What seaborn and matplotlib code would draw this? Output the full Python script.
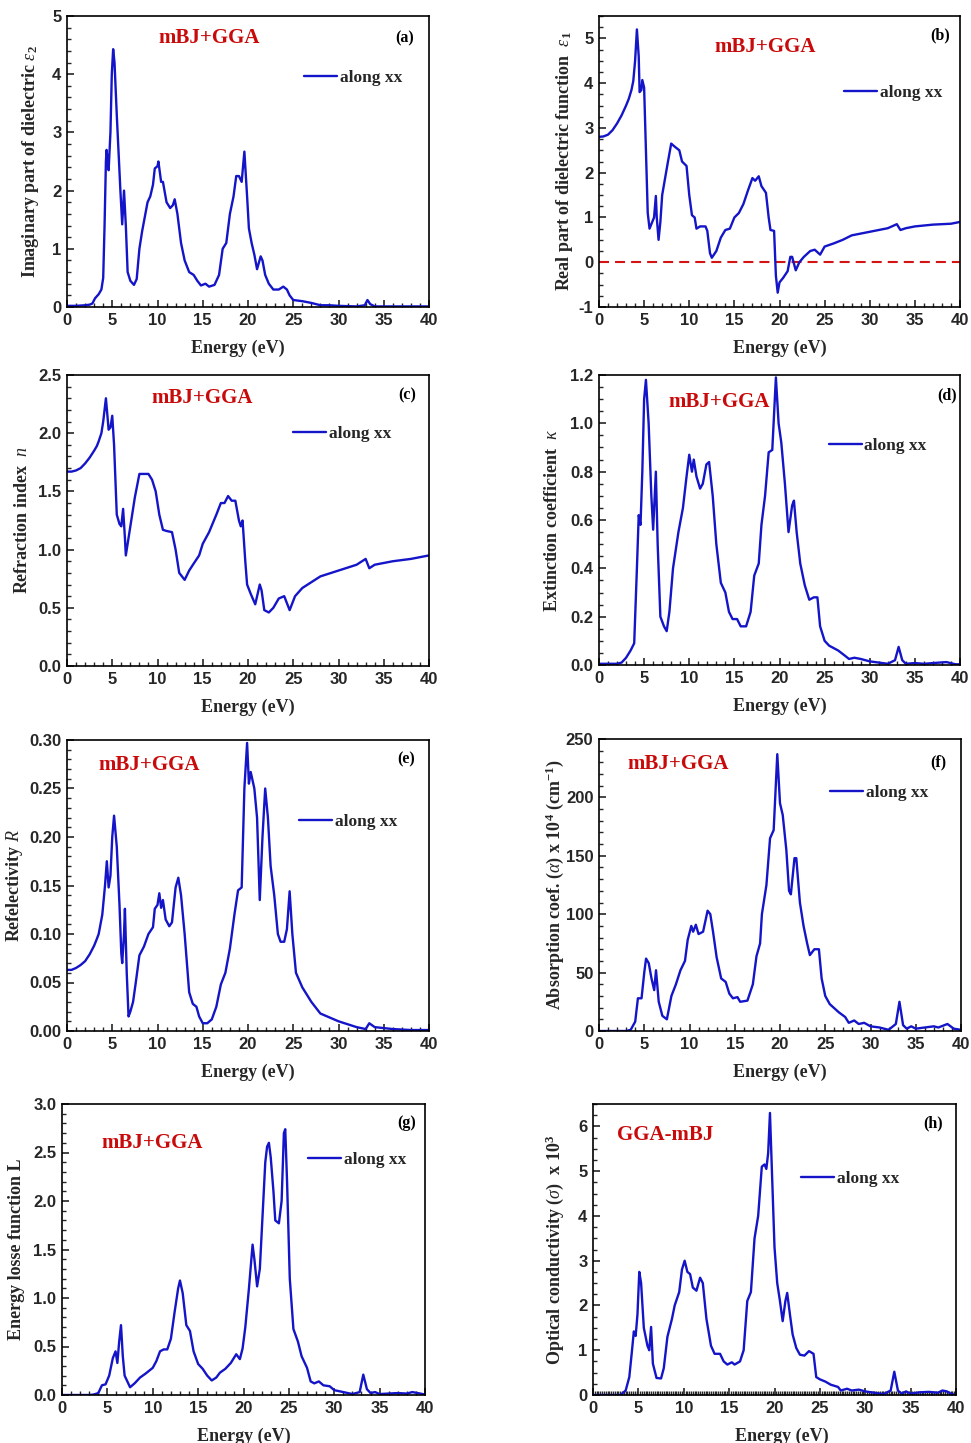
import numpy as np
import pandas as pd
import matplotlib
matplotlib.use("Agg")
import matplotlib.pyplot as plt
from matplotlib.font_manager import FontProperties
from matplotlib.ticker import MultipleLocator, AutoMinorLocator, FormatStrFormatter
import seaborn as sns

# ---------------------------------------------------------------- data
# (a) imaginary part of the dielectric function
energy_eps2 = [0, 1, 2, 2.5, 2.8, 3.1, 3.5, 3.8, 4.0, 4.15, 4.3, 4.37, 4.5, 4.6, 4.8, 4.95, 5.1, 5.25,
               5.5, 5.9, 6.1, 6.3, 6.5, 6.7, 7.0, 7.4, 7.7, 8.0, 8.3, 8.9, 9.2, 9.5, 9.7, 10.0, 10.1,
               10.4, 10.6, 11.0, 11.4, 11.7, 11.9, 12.2, 12.6, 13.0, 13.5, 14.0, 14.4, 14.8, 15.3,
               15.7, 16.3, 16.8, 17.2, 17.6, 18.0, 18.4, 18.7, 19.0, 19.3, 19.6, 19.9, 20.1, 20.4,
               20.7, 21.0, 21.4, 21.6, 21.9, 22.3, 22.8, 23.4, 23.9, 24.3, 24.6, 25.0, 26.0, 27.0,
               28.0, 29.0, 30.0, 32.0, 32.9, 33.2, 33.5, 34.0, 36.0, 38.0, 40.0]
eps2 = [0.02, 0.02, 0.03, 0.04, 0.06, 0.15, 0.22, 0.3, 0.5, 1.4, 2.5, 2.7, 2.5, 2.35, 3.0, 4.0, 4.43, 4.2,
        3.3, 2.0, 1.42, 2.0, 1.4, 0.6, 0.45, 0.38, 0.48, 1.0, 1.3, 1.8, 1.9, 2.1, 2.38, 2.42, 2.5,
        2.15, 2.15, 1.8, 1.7, 1.75, 1.85, 1.6, 1.1, 0.8, 0.6, 0.55, 0.45, 0.37, 0.4,
        0.35, 0.38, 0.55, 1.0, 1.1, 1.6, 1.9, 2.25, 2.25, 2.15, 2.67, 1.9, 1.35, 1.1,
        0.9, 0.65, 0.87, 0.8, 0.55, 0.4, 0.3, 0.3, 0.35, 0.3, 0.2, 0.12, 0.1, 0.07,
        0.03, 0.03, 0.02, 0.01, 0.03, 0.12, 0.05, 0.01, 0.01, 0.01, 0.01]

# (b) real part of the dielectric function
energy_eps1 = [0, 0.5, 1, 1.5, 2, 2.5, 3, 3.3, 3.6, 3.8, 4.0, 4.2, 4.4, 4.5, 4.7, 4.8, 5.0, 5.2, 5.4, 5.6,
               5.9, 6.1, 6.3, 6.4, 6.6, 6.8, 7.0, 7.6, 8.0, 8.4, 8.9, 9.2, 9.7, 10.0, 10.3, 10.6, 10.8,
               11.2, 11.8, 12.0, 12.3, 12.5, 13.0, 13.5, 14.0, 14.5, 15.0, 15.5, 16.0, 16.5, 17.0,
               17.3, 17.7, 18.0, 18.5, 18.8, 19.0, 19.4, 19.6, 19.8, 20.0, 20.4, 20.9, 21.2, 21.4,
               21.8, 22.2, 22.7, 23.4, 23.9, 24.5, 25.0, 26.0, 27.0, 28.0, 30.0, 32.0, 33.0, 33.4,
               34.0, 35.0, 37.0, 39.0, 40.0]
eps1 = [2.8, 2.81, 2.85, 2.95, 3.1, 3.28, 3.5, 3.65, 3.85, 4.05, 4.5, 5.2, 4.6, 3.8, 3.85, 4.07, 3.9, 2.5, 1.1, 0.75,
        0.9, 1.0, 1.48, 1.0, 0.5, 0.9, 1.5, 2.2, 2.65, 2.58, 2.5, 2.25, 2.15, 1.5, 1.05, 1.0, 0.75,
        0.8, 0.8, 0.7, 0.2, 0.1, 0.25, 0.55, 0.72, 0.75, 1.0, 1.1, 1.3, 1.6, 1.88,
        1.82, 1.92, 1.7, 1.55, 1.0, 0.72, 0.7, -0.3, -0.68, -0.45, -0.35, -0.2, 0.12, 0.12,
        -0.18, 0.0, 0.12, 0.25, 0.28, 0.17, 0.35, 0.42, 0.5, 0.6, 0.68, 0.76, 0.85, 0.72,
        0.76, 0.8, 0.84, 0.86, 0.9]

# (c) refraction index
energy_n = [0, 0.5, 1, 1.5, 2, 2.5, 3, 3.3, 3.5, 3.8, 4.0, 4.3, 4.6, 4.8, 5.0, 5.2, 5.5, 5.8, 6.0, 6.2,
            6.4, 6.5, 6.8, 7.0, 7.5, 8.0, 8.5, 9.0, 9.4, 9.8, 10.2, 10.6, 11.0, 11.6, 12.0, 12.4,
            13.0, 13.5, 14.0, 14.6, 15.0, 15.7, 16.5, 17.0, 17.4, 17.8, 18.2, 18.6, 19.0, 19.2,
            19.4, 19.7, 19.9, 20.3, 20.8, 21.3, 21.5, 21.8, 22.3, 22.8, 23.4, 24.0, 24.4, 24.6,
            25.2, 26.0, 27.0, 28.0, 30.0, 32.0, 33.0, 33.4, 34.0, 36.0, 38.0, 40.0]
n_index = [1.67, 1.67, 1.68, 1.7, 1.74, 1.79, 1.85, 1.89, 1.93, 2.0, 2.1, 2.3, 2.03, 2.05, 2.15, 1.9, 1.3, 1.22, 1.2, 1.35,
           1.1, 0.95, 1.1, 1.2, 1.45, 1.65, 1.65, 1.65, 1.6, 1.5, 1.3, 1.17, 1.16, 1.15, 1.0, 0.8,
           0.74, 0.82, 0.88, 0.95, 1.05, 1.15, 1.3, 1.4, 1.4, 1.46, 1.42, 1.42, 1.25, 1.2,
           1.25, 0.9, 0.7, 0.62, 0.53, 0.7, 0.65, 0.48, 0.46, 0.5, 0.58, 0.6, 0.52, 0.48,
           0.6, 0.67, 0.72, 0.77, 0.82, 0.87, 0.92, 0.84, 0.87, 0.9, 0.92, 0.95]

# (d) extinction coefficient
energy_k = [0, 2, 2.5, 3.0, 3.5, 3.9, 4.2, 4.4, 4.6, 4.8, 5.0, 5.2, 5.5, 5.8, 6.0, 6.3, 6.5, 6.8, 7.2,
            7.5, 7.8, 8.2, 8.8, 9.3, 9.7, 10.0, 10.3, 10.5, 10.8, 11.2, 11.5, 11.9, 12.2, 12.6,
            13.0, 13.5, 14.0, 14.4, 14.8, 15.3, 15.7, 16.3, 16.8, 17.2, 17.7, 18.0, 18.4, 18.8,
            19.2, 19.6, 19.9, 20.2, 20.6, 21.0, 21.4, 21.6, 21.9, 22.3, 22.8, 23.3, 23.8, 24.2,
            24.5, 25.0, 25.5, 26.5, 27.2, 27.7, 28.3, 29.0, 30.0, 31.0, 32.0, 32.8, 33.2, 33.6,
            34.0, 35.0, 36.0, 37.0, 38.5, 39.5, 40.0]
kappa = [0.005, 0.005, 0.01, 0.03, 0.06, 0.09, 0.4, 0.62, 0.58, 0.8, 1.1, 1.18, 1.0, 0.7, 0.56, 0.8, 0.5, 0.2, 0.16,
         0.14, 0.22, 0.4, 0.55, 0.65, 0.78, 0.87, 0.8, 0.85, 0.78, 0.73, 0.75, 0.83, 0.84, 0.7,
         0.5, 0.34, 0.3, 0.22, 0.19, 0.19, 0.16, 0.16, 0.22, 0.37, 0.42, 0.58, 0.7, 0.88,
         0.89, 1.19, 1.0, 0.92, 0.75, 0.55, 0.66, 0.68, 0.55, 0.42, 0.33, 0.27, 0.28, 0.28,
         0.16, 0.1, 0.08, 0.06, 0.04, 0.025, 0.03, 0.025, 0.015, 0.01, 0.005, 0.02, 0.075, 0.02,
         0.005, 0.008, 0.005, 0.008, 0.012, 0.003, 0.003]

# (e) reflectivity
energy_r = [0, 0.5, 1, 1.5, 2, 2.5, 3, 3.3, 3.5, 3.9, 4.2, 4.4, 4.6, 4.8, 5.0, 5.2, 5.5, 5.8, 6.0, 6.1,
            6.3, 6.4, 6.6, 6.8, 7.0, 7.3, 7.6, 8.0, 8.5, 9.0, 9.5, 9.7, 10.0, 10.2, 10.4, 10.6, 10.9,
            11.3, 11.6, 12.0, 12.3, 12.6, 13.0, 13.5, 13.9, 14.3, 14.6, 15.0, 15.5, 16.0, 16.5,
            17.0, 17.5, 18.0, 18.5, 18.9, 19.3, 19.6, 19.9, 20.1, 20.3, 20.7, 21.0, 21.3, 21.6,
            21.9, 22.2, 22.5, 22.9, 23.3, 23.6, 24.0, 24.3, 24.6, 24.9, 25.3, 26.0, 27.0, 28.0,
            29.0, 30.0, 31.0, 32.0, 33.0, 33.4, 34.0, 35.0, 36.0, 38.0, 40.0]
reflect = [0.063, 0.063, 0.065, 0.068, 0.072, 0.079, 0.088, 0.095, 0.1, 0.12, 0.15, 0.175, 0.148, 0.16, 0.2, 0.222, 0.19, 0.13, 0.08, 0.07,
           0.1, 0.126, 0.06, 0.015, 0.02, 0.03, 0.05, 0.078, 0.087, 0.1, 0.107, 0.126, 0.13, 0.142, 0.127, 0.135, 0.115,
           0.108, 0.112, 0.148, 0.158, 0.14, 0.1, 0.04, 0.028, 0.025, 0.015, 0.008, 0.008, 0.012, 0.025,
           0.048, 0.06, 0.085, 0.12, 0.145, 0.148, 0.25, 0.297, 0.255, 0.267, 0.25, 0.22, 0.135, 0.2,
           0.25, 0.22, 0.17, 0.14, 0.1, 0.092, 0.092, 0.105, 0.144, 0.1, 0.06, 0.045, 0.03, 0.018,
           0.014, 0.01, 0.007, 0.004, 0.002, 0.008, 0.004, 0.003, 0.002, 0.001, 0.001]

# (f) absorption coefficient (x 10^4 cm^-1)
energy_alpha = [0, 3.0, 3.5, 4.0, 4.3, 4.7, 5.0, 5.2, 5.5, 5.8, 6.1, 6.3, 6.6, 7.0, 7.5, 8.0, 8.5, 9.0,
                9.5, 9.8, 10.2, 10.4, 10.7, 11.0, 11.5, 12.0, 12.3, 12.6, 13.0, 13.5, 14.0, 14.4,
                14.8, 15.3, 15.6, 16.4, 17.0, 17.4, 17.8, 18.0, 18.5, 18.9, 19.3, 19.7, 20.0, 20.3,
                20.7, 21.0, 21.2, 21.6, 21.8, 22.2, 22.6, 23.0, 23.3, 23.8, 24.3, 24.6, 25.0, 25.5,
                26.5, 27.2, 27.6, 28.2, 28.7, 29.3, 30.0, 31.0, 32.0, 32.8, 33.2, 33.6, 34.0, 34.5,
                35.0, 36.0, 37.0, 37.5, 38.5, 39.2, 40.0]
alpha = [0, 0, 1, 8, 28, 28, 50, 62, 58, 45, 35, 52, 25, 13, 10, 30, 40, 52,
         60, 78, 90, 85, 91, 83, 85, 103, 100, 85, 63, 45, 42, 32,
         28, 29, 25, 26, 40, 64, 75, 100, 125, 165, 172, 237, 195, 185,
         155, 120, 117, 148, 148, 110, 90, 75, 65, 70, 70, 45, 30, 23,
         16, 12, 7, 9, 6, 7, 4, 3, 1, 6, 25, 5, 2, 4,
         2, 3, 4, 3, 6, 2, 1]

# (g) energy loss function
energy_loss = [0, 3.0, 3.5, 4.0, 4.4, 4.8, 5.2, 5.6, 5.9, 6.1, 6.3, 6.5, 6.7, 6.9, 7.5, 8.0, 8.6, 9.2,
               10.0, 10.4, 10.8, 11.2, 11.6, 12.0, 12.4, 12.8, 13.0, 13.3, 13.7, 14.1, 14.5, 15.0,
               15.5, 16.0, 16.5, 17.0, 17.4, 18.0, 18.6, 19.2, 19.6, 19.9, 20.2, 20.6, 21.0, 21.2,
               21.5, 21.8, 22.1, 22.4, 22.6, 22.8, 23.0, 23.3, 23.5, 23.9, 24.2, 24.45, 24.6, 24.8,
               25.1, 25.5, 26.0, 26.4, 27.0, 27.4, 27.8, 28.3, 28.8, 29.5, 30.0, 31.0, 32.0, 32.8,
               33.2, 33.6, 34.0, 34.5, 35.0, 36.0, 37.0, 38.0, 38.6, 39.2, 40.0]
loss = [0, 0, 0.005, 0.02, 0.1, 0.11, 0.2, 0.38, 0.45, 0.33, 0.55, 0.72, 0.4, 0.2, 0.08, 0.12, 0.18, 0.22,
        0.28, 0.35, 0.45, 0.47, 0.47, 0.58, 0.85, 1.1, 1.18, 1.05, 0.72, 0.66, 0.45, 0.32,
        0.27, 0.2, 0.15, 0.18, 0.23, 0.27, 0.33, 0.42, 0.37, 0.48, 0.7, 1.1, 1.55, 1.4,
        1.12, 1.3, 1.85, 2.4, 2.56, 2.6, 2.45, 2.1, 1.8, 1.77, 2.0, 2.7, 2.74, 2.2,
        1.2, 0.68, 0.55, 0.4, 0.28, 0.14, 0.12, 0.14, 0.1, 0.09, 0.05, 0.03, 0.01, 0.03,
        0.21, 0.06, 0.02, 0.03, 0.01, 0.015, 0.02, 0.015, 0.03, 0.02, 0.005]

# (h) optical conductivity (x 10^3)
energy_sigma = [0, 3.0, 3.2, 3.6, 4.0, 4.3, 4.5, 4.7, 4.9, 5.1, 5.3, 5.6, 6.0, 6.2, 6.4, 6.6, 7.0, 7.5,
                7.8, 8.2, 8.7, 9.0, 9.5, 9.8, 10.1, 10.4, 10.7, 11.0, 11.4, 11.8, 12.1, 12.5, 13.0,
                13.4, 14.0, 14.4, 14.8, 15.3, 15.6, 16.2, 16.6, 17.0, 17.4, 17.8, 18.2, 18.6, 18.9,
                19.1, 19.3, 19.5, 19.8, 20.0, 20.3, 20.6, 20.9, 21.2, 21.4, 21.7, 22.0, 22.4, 22.8,
                23.3, 23.8, 24.3, 24.6, 25.0, 25.6, 26.2, 27.0, 27.3, 28.0, 28.5, 29.3, 30.0, 31.0,
                32.0, 32.8, 33.2, 33.6, 34.0, 34.5, 35.0, 36.0, 37.0, 38.0, 38.5, 39.0, 39.5, 40.0]
sigma = [0, 0, 0.03, 0.1, 0.4, 1.0, 1.42, 1.32, 1.8, 2.75, 2.5, 1.5, 1.1, 1.0, 1.52, 0.7, 0.38, 0.37,
         0.6, 1.3, 1.7, 2.0, 2.3, 2.8, 3.0, 2.75, 2.7, 2.4, 2.33, 2.62, 2.5, 1.7, 1.1,
         0.92, 0.92, 0.75, 0.68, 0.73, 0.68, 0.75, 1.0, 2.1, 2.3, 3.5, 4.0, 5.1, 5.15,
         5.05, 5.4, 6.3, 4.5, 3.3, 2.5, 2.1, 1.65, 2.1, 2.28, 1.8, 1.35, 1.05, 0.9,
         0.88, 0.98, 0.92, 0.4, 0.35, 0.3, 0.23, 0.18, 0.1, 0.14, 0.1, 0.12, 0.08, 0.05,
         0.02, 0.1, 0.52, 0.1, 0.03, 0.08, 0.03, 0.06, 0.07, 0.05, 0.1, 0.08, 0.02, 0.0]

x_ticks = [0, 5, 10, 15, 20, 25, 30, 35, 40]

# ---------------------------------------------------------------- style
sns.set_theme(style="ticks")
plt.rcParams.update({
    "font.family": ["Liberation Serif", "DejaVu Serif"],
    "mathtext.fontset": "custom",
    "mathtext.rm": "Liberation Serif:bold",
    "mathtext.bf": "Liberation Serif:bold",
    "mathtext.it": "Liberation Serif:italic",
    "axes.linewidth": 1.2,
})

LINE_BLUE = "#1414c8"
TEXT_RED = "#c80a0a"
TICK_FONT = {"family": "Liberation Sans", "weight": "bold", "size": 12}
LABEL_FONT = {"family": "Liberation Serif", "weight": "bold", "size": 13}

W, H = 971, 1443
fig = plt.figure(figsize=(W / 100, H / 100), dpi=100)


def make_axes(left, top, right, bottom):
    return fig.add_axes([left / W, 1 - bottom / H, (right - left) / W, (bottom - top) / H])


panels = [
    dict(box=(67, 16, 429, 307), x=energy_eps2, y=eps2, ylim=(0, 5), major=1, minor=5, fmt="%d",
         ylabel=r"Imaginary part of dielectric $\mathit{\varepsilon}_{2}$", ylab_x=-0.072,
         tag="mBJ+GGA", tag_xy=(0.392, 0.924), letter="(a)", letter_xy=(0.934, 0.924),
         leg_xy=(0.655, 0.787), xminor=5, xlab_x=0.472),
    dict(box=(599, 16, 960, 307), x=energy_eps1, y=eps1, ylim=(-1, 5.5), major=1, minor=4, fmt="%d",
         ylabel=r"Real part of dielectric function  $\mathit{\varepsilon}_{1}$", ylab_x=-0.066,
         tag="mBJ+GGA", tag_xy=(0.46, 0.893), letter="(b)", letter_xy=(0.945, 0.935),
         leg_xy=(0.68, 0.735), xminor=5, xlab_x=0.5, zero_line=True),
    dict(box=(67, 375, 429, 666), x=energy_n, y=n_index, ylim=(0, 2.5), major=0.5, minor=5, fmt="%.1f",
         ylabel=r"Refraction index  $\mathit{n}$", ylab_x=-0.099,
         tag="mBJ+GGA", tag_xy=(0.373, 0.921), letter="(c)", letter_xy=(0.939, 0.931),
         leg_xy=(0.625, 0.797), xminor=5, xlab_x=0.5),
    dict(box=(599, 375, 960, 665), x=energy_k, y=kappa, ylim=(0, 1.2), major=0.2, minor=4, fmt="%.1f",
         ylabel=r"Extinction coefficient  $\mathit{\kappa}$", ylab_x=-0.105,
         tag="mBJ+GGA", tag_xy=(0.332, 0.907), letter="(d)", letter_xy=(0.964, 0.931),
         leg_xy=(0.636, 0.755), xminor=5, xlab_x=0.5),
    dict(box=(67, 740, 429, 1031), x=energy_r, y=reflect, ylim=(0, 0.30), major=0.05, minor=5, fmt="%.2f",
         ylabel=r"Refelectivity $\mathit{R}$", ylab_x=-0.116,
         tag="mBJ+GGA", tag_xy=(0.226, 0.914), letter="(e)", letter_xy=(0.936, 0.935),
         leg_xy=(0.641, 0.718), xminor=5, xlab_x=0.5),
    dict(box=(599, 739, 961, 1031), x=energy_alpha, y=alpha, ylim=(0, 250), major=50, minor=5, fmt="%d",
         ylabel=r"Absorption coef. ($\alpha$) x 10$^{4}$ (cm$^{-1}$)", ylab_x=-0.092,
         tag="mBJ+GGA", tag_xy=(0.218, 0.914), letter="(f)", letter_xy=(0.936, 0.921),
         leg_xy=(0.638, 0.815), xminor=5, xlab_x=0.5),
    dict(box=(62, 1104, 425, 1395), x=energy_loss, y=loss, ylim=(0, 3.0), major=0.5, minor=5, fmt="%.1f",
         ylabel="Energy losse function L", ylab_x=-0.102,
         tag="mBJ+GGA", tag_xy=(0.248, 0.866), letter="(g)", letter_xy=(0.950, 0.935),
         leg_xy=(0.678, 0.808), xminor=5, xlab_x=0.5),
    dict(box=(593, 1104, 956, 1395), x=energy_sigma, y=sigma, ylim=(0, 6.5), major=1, minor=4, fmt="%d",
         ylabel=r"Optical conductivity ($\sigma$)  x 10$^{3}$", ylab_x=-0.074,
         tag="GGA-mBJ", tag_xy=(0.198, 0.893), letter="(h)", letter_xy=(0.937, 0.935),
         leg_xy=(0.573, 0.742), xminor=25, xlab_x=0.52),
]

for p in panels:
    ax = make_axes(*p["box"])
    frame = pd.DataFrame({"Energy": p["x"], "value": p["y"]})
    sns.lineplot(data=frame, x="Energy", y="value", ax=ax, color=LINE_BLUE, linewidth=1.7,
                 label="along xx", sort=False, estimator=None)
    if p.get("zero_line"):
        ax.axhline(0, color="#d41414", linewidth=1.5, linestyle=(0, (4.8, 2.9)), zorder=1)

    ax.set_xlim(0, 40)
    ax.set_ylim(*p["ylim"])
    ax.set_xticks(x_ticks)
    ax.xaxis.set_minor_locator(AutoMinorLocator(p["xminor"]))
    ax.yaxis.set_major_locator(MultipleLocator(p["major"]))
    ax.yaxis.set_minor_locator(AutoMinorLocator(p["minor"]))
    ax.yaxis.set_major_formatter(FormatStrFormatter(p["fmt"]))
    ax.tick_params(which="both", direction="in", top=False, right=False, width=1.2, pad=4)
    ax.tick_params(which="major", length=5)
    ax.tick_params(which="minor", length=3, width=1.0)
    for lab in ax.get_xticklabels() + ax.get_yticklabels():
        lab.set_fontproperties(FontProperties(**TICK_FONT))
    for sp in ax.spines.values():
        sp.set_visible(True)
        sp.set_linewidth(1.2)
        sp.set_color("black")

    ax.set_xlabel("Energy (eV)", **LABEL_FONT)
    ax.set_ylabel(p["ylabel"], **LABEL_FONT)
    ax.xaxis.set_label_coords(p["xlab_x"], -0.112)
    ax.yaxis.set_label_coords(p["ylab_x"], 0.5)

    ax.text(*p["tag_xy"], p["tag"], transform=ax.transAxes, ha="center", va="center",
            color=TEXT_RED, family="Liberation Serif", weight="bold", size=15)
    ax.text(*p["letter_xy"], p["letter"], transform=ax.transAxes, ha="center", va="center",
            color="black", family="Liberation Serif", weight="bold", size=11.5)

    ax.legend(loc="center left", bbox_to_anchor=p["leg_xy"], frameon=False, borderpad=0,
              borderaxespad=0, handlelength=1.9, handletextpad=0.15,
              prop={"family": "Liberation Serif", "weight": "bold", "size": 12.5})

fig.savefig("out.png", dpi=100)
